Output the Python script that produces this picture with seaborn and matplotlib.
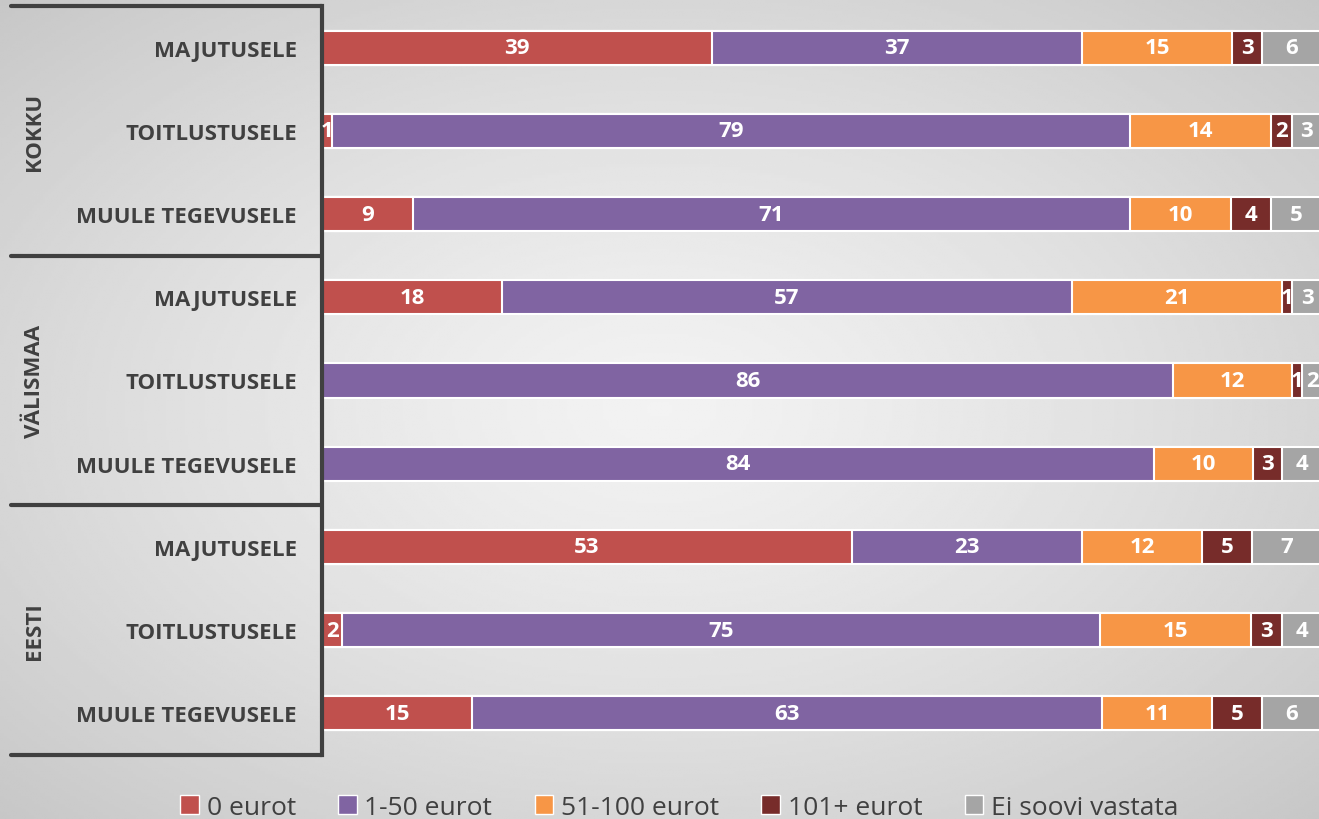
import numpy as np
import pandas as pd
import matplotlib
matplotlib.use("Agg")
import matplotlib.pyplot as plt
from matplotlib.patches import Patch
import seaborn as sns

# -------------------------------------------------------
# DATA
# -------------------------------------------------------
groups = ["KOKKU", "VÄLISMAA", "EESTI"]
purposes = ["MAJUTUSELE", "TOITLUSTUSELE", "MUULE TEGEVUSELE"]
series_names = ["0 eurot", "1-50 eurot", "51-100 eurot", "101+ eurot", "Ei soovi vastata"]

eur_0 = [39, 1, 9, 18, 0, 0, 53, 2, 15]
eur_1_50 = [37, 79, 71, 57, 86, 84, 23, 75, 63]
eur_51_100 = [15, 14, 10, 21, 12, 10, 12, 15, 11]
eur_101 = [3, 2, 4, 1, 1, 3, 5, 3, 5]
no_answer = [6, 3, 5, 3, 2, 4, 7, 4, 6]

colors = ["#C0504D", "#8064A2", "#F79646", "#772C2A", "#A5A5A5"]
dark = "#404040"

# -------------------------------------------------------
# BUILD TABLE (100% stacked: each row scaled to its own total)
# -------------------------------------------------------
row_ids = [f"r{i}" for i in range(9)]
row_labels = purposes * len(groups)
values = np.array([eur_0, eur_1_50, eur_51_100, eur_101, no_answer], dtype=float)
shares = values / values.sum(axis=0) * 100
cum = np.cumsum(shares, axis=0)
lefts = cum - shares

df = pd.DataFrame({"row": row_ids})
for name, c in zip(series_names, cum):
    df[name] = c

sns.set_theme(style="white")
plt.rcParams["font.family"] = ["Open Sans", "DejaVu Sans"]

fig = plt.figure(figsize=(13.19, 8.2), dpi=100)

# background gradient (light centre, darker edges)
bg = fig.add_axes([0, 0, 1, 1], zorder=-10)
yy, xx = np.mgrid[-1:1:300j, -1:1:480j]
r = np.sqrt(xx ** 2 + yy ** 2) / np.sqrt(2)
bg.imshow(0.95 - 0.17 * r ** 1.3, cmap="gray", vmin=0, vmax=1, aspect="auto",
          extent=[0, 1, 0, 1])
bg.axis("off")

ax_left = 322 / 1319
ax_top = 1 - 7 / 820
ax_bottom = 1 - 756 / 820
ax = fig.add_axes([ax_left, ax_bottom, 1000 / 1319, ax_top - ax_bottom])
ax.set_facecolor("none")

# stacked bars: draw cumulative totals from the largest down
for name, col in reversed(list(zip(series_names, colors))):
    sns.barplot(data=df, x=name, y="row", order=row_ids, orient="h", color=col,
                width=0.41, edgecolor="white", linewidth=1.5, saturation=1, ax=ax)

# segment labels
for s in range(values.shape[0]):
    for i in range(values.shape[1]):
        v = values[s, i]
        if v <= 0:
            continue
        ax.text(lefts[s, i] + shares[s, i] / 2, i, f"{int(v)}", ha="center",
                va="center", color="white", fontsize=16, fontweight="bold")

ax.set_xlim(0, 100)
ax.set_ylim(8.5, -0.5)
ax.set_xlabel("")
ax.set_ylabel("")
ax.set_xticks([])
ax.set_yticks(range(9))
ax.set_yticklabels(row_labels, fontsize=16, fontweight="bold", color=dark)
ax.tick_params(axis="y", length=0, pad=18)
for side in ["top", "right", "bottom"]:
    ax.spines[side].set_visible(False)
ax.spines["left"].set_color(dark)
ax.spines["left"].set_linewidth(3)

# group separator lines across the label panel
for yb in [-0.5, 2.5, 5.5, 8.5]:
    ax.axhline(yb, xmin=-0.311, xmax=0, color=dark, linewidth=3, clip_on=False)

# group labels
for g, name in enumerate(groups):
    ax.text(-0.287, 3 * g + 1, name, transform=ax.get_yaxis_transform(),
            rotation=90, ha="center", va="center", fontsize=16,
            fontweight="bold", color=dark)

handles = [Patch(facecolor=c, edgecolor="white", linewidth=1) for c in colors]
fig.legend(handles, series_names, loc="lower center", bbox_to_anchor=(0.515, -0.03),
           ncol=5, frameon=False, fontsize=19, handlelength=0.7, handleheight=0.7,
           handletextpad=0.3, columnspacing=1.6, labelcolor=dark)

fig.savefig("out.png", dpi=100)
